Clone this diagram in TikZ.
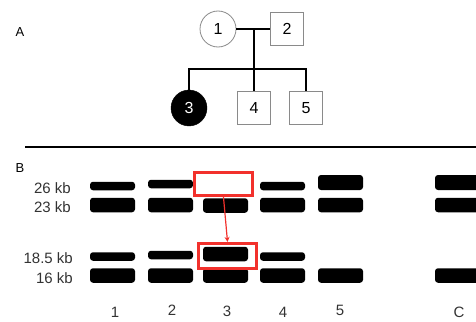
\documentclass[tikz,border=0pt]{standalone}
\usepackage{fontspec}
\setmainfont{Liberation Sans}
\usetikzlibrary{arrows.meta}
\definecolor{boxred}{HTML}{F2312C}
\definecolor{edgegray}{HTML}{8A8A8A}
\begin{document}
\begin{tikzpicture}[x=1pt,y=-1pt,
  female/.style={circle,draw=edgegray,line width=0.8pt,minimum size=36pt,inner sep=0pt,font=\fontsize{16}{18}\selectfont},
  male/.style={rectangle,draw=edgegray,line width=0.8pt,minimum size=33pt,inner sep=0pt,font=\fontsize{16}{18}\selectfont},
  affected/.style={circle,fill=black,draw=black,minimum size=36pt,inner sep=0pt,text=white,font=\fontsize{16}{18}\selectfont},
  pedline/.style={line width=1.8pt,black},
  band/.style={rectangle,fill=black,rounded corners=3pt,inner sep=0pt,minimum width=45pt},
  thinband/.style={band,minimum height=8.5pt},
  thickband/.style={band,minimum height=14.5pt},
  hilite/.style={rectangle,draw=boxred,line width=3.2pt,inner sep=0pt},
  lbl/.style={font=\fontsize{15}{17}\selectfont,text=black!80,inner sep=0pt},
  panel/.style={font=\fontsize{13}{15}\selectfont,inner sep=0pt},
]
\useasboundingbox (0,0) rectangle (476,321);

% Panel labels
\node[panel] (A) at (20,32) {A};
\node[panel] (B) at (20,168) {B};

% Pedigree
\node[female] (p1) at (218,29) {1};
\node[male] (p2) at (287,29) {2};
\node[affected] (p3) at (189,108) {3};
\node[male] (p4) at (254,108) {4};
\node[male] (p5) at (306,108) {5};
\coordinate (m) at (254,29);
\coordinate (s) at (254,69);
\coordinate (s3) at (189,69);
\coordinate (s5) at (306,69);
\draw[pedline] (p1.east) -- (p2.west);
\draw[pedline] (m) -- (s);
\draw[pedline] (p3.north) -- (s3) -- (s5) -- (p5.north);
\draw[pedline] (s) -- (p4.north);

% Divider
\coordinate (r0) at (25,147);
\coordinate (r9) at (476,147);
\draw[line width=1.8pt] (r0) -- (r9);

% Size labels
\node[lbl,anchor=east] (k26) at (71,188) {26 kb};
\node[lbl,anchor=east] (k23) at (71,207) {23 kb};
\node[lbl,anchor=east] (k185) at (73,258) {18.5 kb};
\node[lbl,anchor=east] (k16) at (73,278) {16 kb};

% Lane 1
\node[thinband] (b1a) at (112.5,186) {};
\node[thickband] (b1b) at (112.5,205) {};
\node[thinband] (b1c) at (112.5,256.5) {};
\node[thickband] (b1d) at (112.5,275.5) {};
% Lane 2
\node[thinband] (b2a) at (170.5,184) {};
\node[thickband] (b2b) at (170.5,205) {};
\node[thinband] (b2c) at (170.5,255) {};
\node[thickband] (b2d) at (170.5,275.5) {};
% Lane 3
\node[thickband] (b3b) at (225.5,205.5) {};
\node[thickband] (b3c) at (225.5,254) {};
\node[thickband] (b3d) at (225.5,275.5) {};
% Lane 4
\node[thinband] (b4a) at (282.5,186) {};
\node[thickband] (b4b) at (282.5,205) {};
\node[thinband] (b4c) at (282.5,256.5) {};
\node[thickband] (b4d) at (282.5,275.5) {};
% Lane 5
\node[thickband,minimum height=15pt] (b5a) at (340.5,182.5) {};
\node[thickband] (b5b) at (340.5,205) {};
\node[thickband] (b5d) at (340.5,275.5) {};
% Control lane
\node[thickband,minimum height=15pt,minimum width=44pt] (bCa) at (457,182.5) {};
\node[thickband,minimum width=44pt] (bCb) at (457,205) {};
\node[thickband,minimum width=44pt] (bCd) at (457,275.5) {};

% Highlight boxes
\node[hilite,fill=white,minimum width=58pt,minimum height=23pt] (h1) at (223.5,184) {};
\node[hilite,minimum width=58pt,minimum height=25pt] (h2) at (227.5,256) {};
\draw[boxred,line width=1.2pt,-{Stealth[length=5pt,width=5pt]}] (h1.south) -- (h2.north);

% Lane numbers
\node[lbl] (n1) at (115,312) {1};
\node[lbl] (n2) at (172,310) {2};
\node[lbl] (n3) at (227,311) {3};
\node[lbl] (n4) at (283,312) {4};
\node[lbl] (n5) at (340,310) {5};
\node[lbl] (nC) at (459,312) {C};
\end{tikzpicture}
\end{document}
